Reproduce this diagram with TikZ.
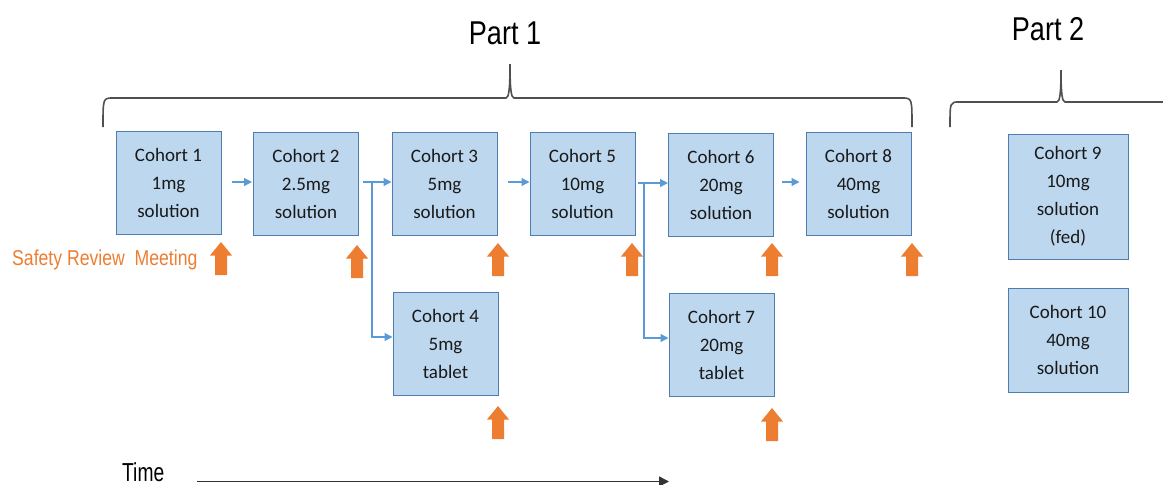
\documentclass[tikz,border=0pt]{standalone}
\usepackage{fontspec}
\setmainfont{Carlito}
\newfontfamily\arialn{Liberation Sans}[FakeStretch=0.82]
\newfontfamily\arialnn{Liberation Sans}[FakeStretch=0.74]
\usetikzlibrary{arrows.meta}
\definecolor{boxfill}{HTML}{BDD7EE}
\definecolor{boxline}{HTML}{4F7DB0}
\definecolor{flowblue}{HTML}{5B9BD5}
\definecolor{safeorange}{HTML}{ED7D31}
\definecolor{bracegray}{HTML}{505050}
\tikzset{
  cohort/.style={draw=boxline, fill=boxfill, line width=1pt, minimum width=105pt,
    minimum height=103pt, inner sep=0pt, align=center, text=black!90,
    font=\fontsize{19}{28}\selectfont},
  flow/.style={draw=flowblue, line width=1.2pt, -{Triangle[length=8pt,width=8pt]}},
  bracepath/.style={draw=bracegray, line width=1.6pt},
  safety/.pic={\fill[safeorange] (0,0) -- (11,13.5) -- (6,13.5) -- (6,33) -- (-6,33) -- (-6,13.5) -- (-11,13.5) -- cycle;},
}
\begin{document}
\begin{tikzpicture}[x=1pt,y=-1pt]
\useasboundingbox (0,0) rectangle (1163,485);
% titles
\node[anchor=base, font=\arialn\fontsize{33}{36}\selectfont] (p1) at (505,44) {Part 1};
\node[anchor=base, font=\arialn\fontsize{33}{36}\selectfont] (p2) at (1048,40) {Part 2};
% braces
\draw[bracepath] (103,127) .. controls (103,98) .. (113,98) -- (506,98)
  .. controls (509,98) and (510,88) .. (510,64)
  .. controls (510,88) and (511,98) .. (514,98) -- (902,98)
  .. controls (912,98) .. (912,127);
\draw[bracepath] (950,127) .. controls (950,102) .. (959,102) -- (1057,102)
  .. controls (1060,102) and (1061,92) .. (1061,70)
  .. controls (1061,92) and (1062,102) .. (1065,102) -- (1163,102);
% cohorts
\node[cohort] (c1) at (168.5,183) {Cohort 1\\1mg\\solution};
\node[cohort] (c2) at (306,184) {Cohort 2\\2.5mg\\solution};
\node[cohort] (c3) at (444.5,183.5) {Cohort 3\\5mg\\solution};
\node[cohort] (c5) at (582.5,183.5) {Cohort 5\\10mg\\solution};
\node[cohort] (c6) at (721,184.5) {Cohort 6\\20mg\\solution};
\node[cohort] (c8) at (858.5,184) {Cohort 8\\40mg\\solution};
\node[cohort] (c4) at (445.5,343.5) {Cohort 4\\5mg\\tablet};
\node[cohort] (c7) at (721.5,344.5) {Cohort 7\\20mg\\tablet};
\node[cohort, minimum width=120pt, minimum height=125pt] (c9) at (1068,196.5) {Cohort 9\\10mg\\solution\\(fed)};
\node[cohort, minimum width=120pt, minimum height=104pt] (c10) at (1068,340) {Cohort 10\\40mg\\solution};
% flow arrows
\draw[flow, shorten <=10pt, shorten >=1pt] (c1.east |- 0,182) -- (c2.west |- 0,182);
\draw[flow, shorten <=4pt] (c2.east |- 0,182) -- (c3.west |- 0,182);
\draw[flow] (372,182) |- (c4.west |- 0,337);
\draw[flow, shorten <=10pt] (c3.east |- 0,182) -- (c5.west |- 0,182);
\draw[flow, shorten <=2pt] (c5.east |- 0,183) -- (c6.west |- 0,183);
\draw[flow] (644,183) |- (c7.west |- 0,338);
\draw[flow, shorten <=8pt, shorten >=6pt] (c6.east |- 0,182) -- (c8.west |- 0,182);
% safety review
\node[anchor=base west, text=safeorange, font=\arialn\fontsize{21.5}{24}\selectfont, inner sep=0pt] (srm) at (12,265) {Safety Review\ \ Meeting};
\pic at (221,242) {safety};
\pic at (357,245) {safety};
\pic at (498,243) {safety};
\pic at (632,243) {safety};
\pic at (772,243) {safety};
\pic at (912,243) {safety};
\pic at (498,406) {safety};
\pic at (772,408) {safety};
% time
\node[anchor=base west, font=\arialnn\fontsize{26}{28}\selectfont, inner sep=0pt] (time) at (122,481) {Time};
\coordinate (tstart) at (197,481.5);
\coordinate (tend) at (669,481.5);
\draw[draw=black!80, line width=1.5pt, -{Triangle[length=10pt,width=10pt]}] (tstart) -- (tend);
\end{tikzpicture}
\end{document}
